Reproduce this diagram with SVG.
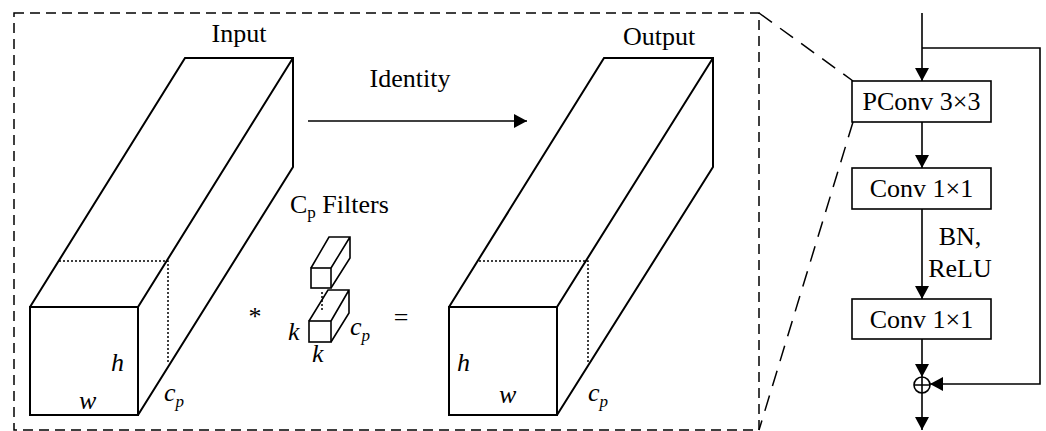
<svg xmlns="http://www.w3.org/2000/svg" width="1046" height="431" viewBox="0 0 1046 431">
<defs>
<marker id="ah" markerUnits="userSpaceOnUse" markerWidth="14" markerHeight="14" refX="13" refY="7" orient="auto">
<path d="M0,0 L13,7 L0,14 z" fill="#000"/>
</marker>
<style>
text{font-family:'Liberation Serif','Times New Roman',Times,serif;font-size:26px;fill:#000}
.i{font-style:italic}
.s{font-size:17px}
.e{fill:none;stroke:#000;stroke-width:2}
.d{fill:none;stroke:#000;stroke-width:1.5;stroke-dasharray:2,2}
.b{fill:#fff;stroke:#000;stroke-width:1.6}
.c{fill:none;stroke:#000;stroke-width:1.6}
.dash{fill:none;stroke:#000;stroke-width:1.5;stroke-dasharray:10,6}
.dl{fill:none;stroke:#000;stroke-width:1.5;stroke-dasharray:16,10}
</style>
</defs>
<rect width="1046" height="431" fill="#fff"/>

<g id="frame">
<rect x="14" y="13" width="745" height="417" class="dash"/>
</g>

<g id="input" font-family="Liberation Serif, serif">
<text x="239" y="42" text-anchor="middle">Input</text>
<path class="e" d="M30,307 L185,58 H293 V167 L138,415 M138,307 L293,58"/>
<rect x="30" y="307" width="108" height="108" class="e"/>
<path class="d" d="M59,261 H168 V363"/>
<text x="111" y="371" class="i">h</text>
<text x="79" y="409" class="i">w</text>
<text x="164" y="401" class="i">c<tspan class="s" dy="6">p</tspan></text>
</g>

<g id="output">
<text x="659" y="45" text-anchor="middle">Output</text>
<path class="e" d="M449,307 L604,58 H713 V167 L557,415 M557,307 L713,58"/>
<rect x="449" y="307" width="108" height="108" class="e"/>
<path class="d" d="M479,261 H588 V363"/>
<text x="457" y="371" class="i">h</text>
<text x="499" y="403" class="i">w</text>
<text x="588" y="401" class="i">c<tspan class="s" dy="6">p</tspan></text>
</g>

<g id="filters">
<text x="290" y="213">C<tspan class="s" dy="5">p</tspan><tspan dy="-5"> Filters</tspan></text>
<path class="c" d="M311,268 L329,237 H350 V258 L331,288 M331,268 L350,237"/>
<rect x="311" y="268" width="20" height="20" class="c"/>
<path class="c" d="M309,321 L328,290 H349 V313 L331,342 M331,321 L349,290"/>
<rect x="309" y="321" width="22" height="21" class="c"/>
<path class="d" d="M322,292 V310" stroke-width="1.2"/>
<text x="288" y="340" class="i">k</text>
<text x="312" y="362" class="i">k</text>
<text x="350" y="335" class="i">c<tspan class="s" dy="6">p</tspan></text>
<text x="255" y="325" text-anchor="middle">*</text>
<text x="401" y="326" text-anchor="middle">=</text>
</g>

<g id="identity">
<text x="410" y="87" text-anchor="middle">Identity</text>
</g>

<g id="pconv">
<rect x="852" y="81" width="139" height="41" class="b"/>
<text x="921.5" y="110" text-anchor="middle">PConv 3×3</text>
</g>
<g id="conv1">
<rect x="852" y="168" width="139" height="41" class="b"/>
<text x="921.5" y="197" text-anchor="middle">Conv 1×1</text>
</g>
<g id="bnrelu">
<text x="960" y="245" text-anchor="middle">BN,</text>
<text x="960" y="277" text-anchor="middle">ReLU</text>
</g>
<g id="conv2">
<rect x="852" y="299" width="139" height="40" class="b"/>
<text x="921.5" y="328" text-anchor="middle">Conv 1×1</text>
</g>
<g id="add">
<circle cx="922" cy="385" r="8" class="c"/>
<path class="c" d="M914,385 H930 M922,377 V393"/>
</g>

<g id="connectors">
<line x1="308" y1="121" x2="527" y2="121" class="c" marker-end="url(#ah)"/>
<line x1="922" y1="13" x2="922" y2="81" class="c" marker-end="url(#ah)"/>
<line x1="922" y1="122" x2="922" y2="168" class="c" marker-end="url(#ah)"/>
<line x1="922" y1="209" x2="922" y2="299" class="c" marker-end="url(#ah)"/>
<line x1="922" y1="339" x2="922" y2="377" class="c" marker-end="url(#ah)"/>
<line x1="922" y1="393" x2="922" y2="430" class="c" marker-end="url(#ah)"/>
<path d="M922,48 H1040 V384 H930" class="c" marker-end="url(#ah)"/>
<line x1="759" y1="13" x2="853" y2="81" class="dl"/>
<line x1="853" y1="122" x2="759" y2="430" class="dl"/>
</g>
</svg>
